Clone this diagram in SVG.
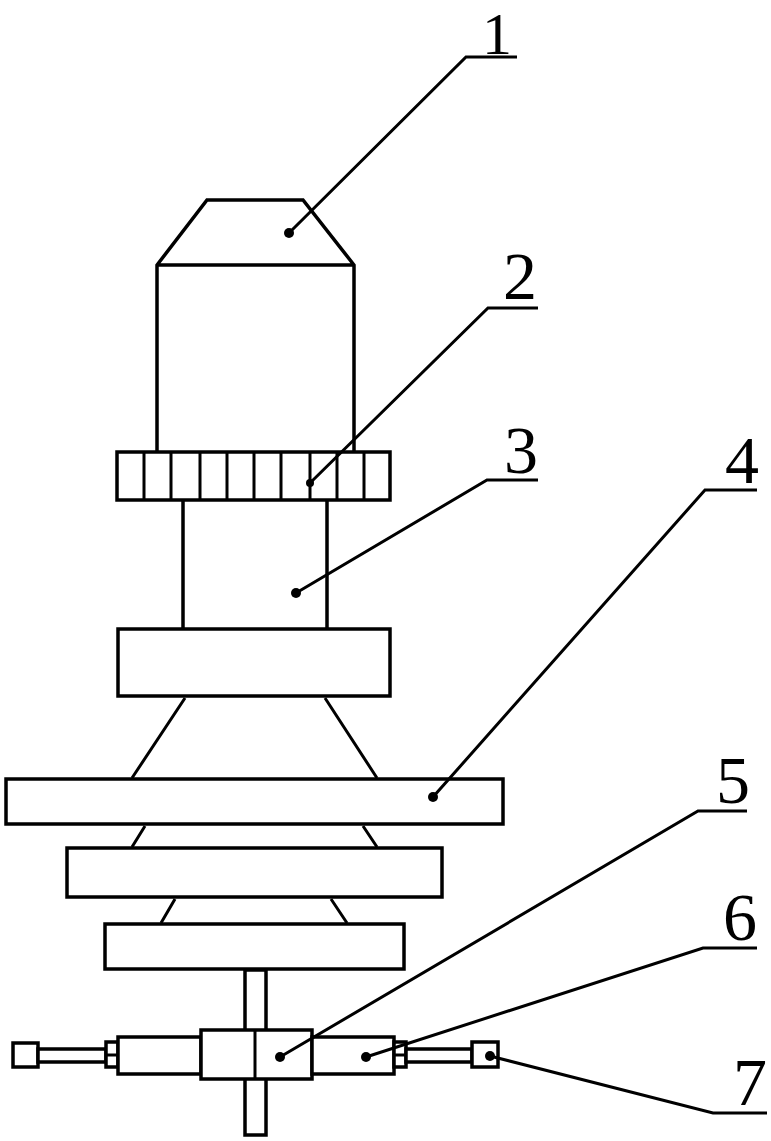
<svg xmlns="http://www.w3.org/2000/svg" width="771" height="1141" viewBox="0 0 771 1141">
<style>
.s{fill:#fff;stroke:#000;stroke-width:3.5}
.l{fill:none;stroke:#000;stroke-width:3}
.d{fill:#000}
.t{font-family:"Liberation Serif",serif;font-size:68px;fill:#000;text-anchor:middle}
</style>
<rect width="771" height="1141" fill="#fff"/>
<g id="shaft"><rect class="s" x="245" y="970" width="21" height="165"/></g>
<g id="part1"><path class="s" d="M157 452V265L207 200H303L354 265V452M157 265H354"/></g>
<g id="part3"><path class="s" d="M183 500V629M327 500V629"/></g>
<g id="part2"><rect class="s" x="117" y="452" width="273" height="48"/>
<path class="l" d="M144 452V500M171 452V500M200 452V500M227 452V500M254 452V500M281 452V500M310 452V500M337 452V500M364 452V500"/></g>
<g id="flange"><rect class="s" x="118" y="629" width="272" height="67"/></g>
<g id="cones"><path class="l" d="M185 698L132 778M325 698L377 778M145 826L132 847M363 826L377 847M175 899L161 923M331 899L347 923"/></g>
<g id="part4"><rect class="s" x="6" y="779" width="497" height="45"/></g>
<g id="plate2"><rect class="s" x="67" y="848" width="375" height="49"/></g>
<g id="plate3"><rect class="s" x="105" y="924" width="299" height="45"/></g>
<g id="part7-left"><rect class="s" x="13" y="1043" width="25" height="24"/><path class="s" d="M38 1049H106V1062H38Z"/></g>
<g id="nut-left"><rect class="s" x="106" y="1042" width="12" height="25"/><path class="l" d="M106 1055H118"/></g>
<g id="cylinder-left"><rect class="s" x="118" y="1037" width="83" height="37"/></g>
<g id="part5"><rect class="s" x="201" y="1030" width="111" height="49"/><path class="l" d="M255 1030V1079"/></g>
<g id="part6"><rect class="s" x="312" y="1037" width="82" height="37"/></g>
<g id="nut-right"><rect class="s" x="394" y="1042" width="12" height="25"/><path class="l" d="M394 1055H406"/></g>
<g id="part7"><path class="s" d="M406 1049H472V1062H406Z"/><rect class="s" x="472" y="1042" width="26" height="25"/></g>
<g id="connectors">
<path class="l" d="M289 233L466 57H517"/>
<path class="l" d="M310 483L488 308H538"/>
<path class="l" d="M296 593L487 480H538"/>
<path class="l" d="M433 797L705 490H757"/>
<path class="l" d="M280 1057L698 811H747"/>
<path class="l" d="M366 1057L703 948H757"/>
<path class="l" d="M490 1056L713 1113H767"/>
<circle class="d" cx="289" cy="233" r="5"/>
<circle class="d" cx="310" cy="483" r="4"/>
<circle class="d" cx="296" cy="593" r="5"/>
<circle class="d" cx="433" cy="797" r="5"/>
<circle class="d" cx="280" cy="1057" r="5"/>
<circle class="d" cx="366" cy="1057" r="5"/>
<circle class="d" cx="490" cy="1056" r="5"/>
</g>
<g id="labels">
<text class="t" x="497" y="54" style="font-size:60px">1</text>
<text class="t" x="520" y="299">2</text>
<text class="t" x="521" y="473">3</text>
<text class="t" x="742" y="483">4</text>
<text class="t" x="733" y="803">5</text>
<text class="t" x="740" y="940">6</text>
<text class="t" x="750" y="1105">7</text>
</g>
</svg>
